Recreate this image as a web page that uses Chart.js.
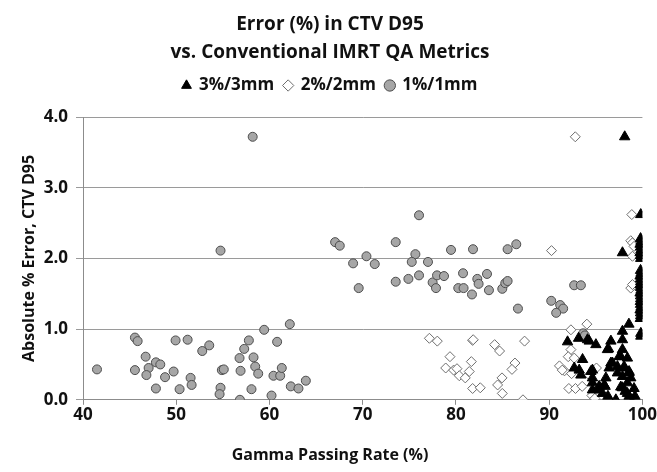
<!DOCTYPE html>
<html lang="en">
<head>
    <meta charset="UTF-8">
    <title>Error (%) in CTV D95</title>
    <script src="https://cdn.jsdelivr.net/npm/chart.js@4.4.1/dist/chart.umd.min.js"></script>
    <style>
        body { margin: 0; background: #fff; }
        #chart { display: block; }
    </style>
</head>
<body>
    <canvas id="chart" width="657" height="472"></canvas>

    <script>
        // axis ticks
        var xTicks = [40, 50, 60, 70, 80, 90, 100];
        var yTicks = [0, 1, 2, 3, 4];

        // 3%/3mm series (gamma passing rate, abs % error)
        var triX = [98.1, 99.82, 97.86, 99.8, 99.85, 99.75, 99.8, 99.85, 99.75, 99.8, 99.82,
            99.8, 99.85, 99.75, 99.8, 99.82, 99.78, 99.8, 99.85, 99.75, 99.8, 99.82, 99.78,
            99.8, 99.85, 99.75, 99.8, 99.82, 99.78, 99.83, 99.83,
            98.55, 97.86, 97.86, 96.62, 95.01, 96.36, 96.25, 97.86, 97.68, 98.39, 97.5,
            94.3, 94.11, 93.15, 91.97, 96.79, 96.62, 96.43, 97.32, 98.04, 98.57, 94.64,
            96.08, 97.86, 98.75, 94.64, 95.9, 95.36, 97.68, 98.57, 97.15, 98.15, 99.1,
            93.58, 92.69, 93.22, 93.4, 94.47, 94.64, 95.36, 94.64, 95.72, 97.32, 98.04,
            98.57, 98.39, 97.86, 98.39, 96.0, 96.3, 99.2];
        var triY = [3.72, 2.62, 2.08, 2.28, 2.24, 2.20, 2.16, 2.12, 2.08, 2.04, 2.00,
            1.83, 1.79, 1.75, 1.71, 1.67, 1.63, 1.59, 1.55, 1.51, 1.47, 1.43, 1.39,
            1.35, 1.31, 1.27, 1.23, 1.19, 1.15, 0.94, 0.90,
            1.07, 0.97, 0.85, 0.83, 0.78, 0.72, 0.71, 0.71, 0.61, 0.59, 0.61,
            0.83, 0.85, 0.87, 0.82, 0.52, 0.52, 0.45, 0.47, 0.45, 0.40, 0.42,
            0.31, 0.33, 0.31, 0.24, 0.21, 0.14, 0.18, 0.05, 0.00, 0.12, 0.16,
            0.57, 0.45, 0.42, 0.35, 0.40, 0.31, 0.19, 0.14, 0.09, 0.38, 0.47,
            0.38, 0.24, 0.17, 0.09, 0.19, 0.05, 0.05];

        // 2%/2mm series
        var diaX = [92.8, 90.25, 77.15, 78.0, 81.79, 81.85, 84.15, 84.68, 87.36, 79.36,
            78.9, 79.75, 80.11, 80.36, 81.0, 81.43, 81.65, 81.79, 82.61, 86.33, 86.01,
            84.94, 84.47, 84.97, 87.19, 92.33, 94.04, 92.33, 92.04, 92.69, 91.1, 91.64,
            92.4, 92.11, 92.82, 93.54, 94.58, 95.07, 94.3, 91.4, 98.86, 98.75, 98.93,
            99.1, 98.93, 98.75, 98.93, 94.9];
        var diaY = [3.72, 2.11, 0.87, 0.83, 0.84, 0.85, 0.78, 0.69, 0.83, 0.61,
            0.45, 0.42, 0.44, 0.34, 0.31, 0.40, 0.54, 0.16, 0.17, 0.52, 0.43,
            0.31, 0.21, 0.09, 0.00, 0.99, 1.07, 0.71, 0.61, 0.59, 0.48, 0.41,
            0.37, 0.16, 0.16, 0.19, 0.06, 0.45, 0.35, 0.42, 2.62, 2.25, 2.22,
            2.17, 2.03, 1.58, 1.63, 0.02];

        // 1%/1mm series
        var cirX = [41.5, 45.57, 45.86, 45.57, 46.72, 47.04, 46.8, 47.82, 48.29, 47.82,
            48.8, 49.72, 49.93, 50.36, 51.22, 51.54, 51.65, 52.79, 53.54, 54.75, 54.65,
            54.89, 55.1, 56.79, 56.9, 57.29, 57.79, 58.29, 58.47, 58.79, 58.07, 56.83,
            59.43, 60.82, 60.43, 61.15, 61.32, 60.22, 62.18, 62.29, 63.11, 63.9,
            54.75, 58.2,
            67.04, 67.54, 68.97, 70.4, 71.29, 69.57, 73.54, 73.54, 74.9, 76.04, 75.65,
            75.26, 76.04, 77.0, 77.5, 77.86, 77.97, 78.72, 79.47, 80.76, 80.25, 80.82,
            81.72, 81.83, 82.29, 82.43, 83.33, 83.54, 84.97, 85.29, 85.54, 85.54, 86.47,
            86.65, 90.22, 91.18, 91.5, 90.75, 93.65, 93.83, 92.68, 93.4];
        var cirY = [0.43, 0.88, 0.83, 0.42, 0.61, 0.45, 0.35, 0.53, 0.50, 0.16,
            0.32, 0.40, 0.84, 0.15, 0.85, 0.31, 0.21, 0.69, 0.77, 0.17, 0.08,
            0.42, 0.43, 0.59, 0.41, 0.72, 0.84, 0.60, 0.47, 0.37, 0.15, 0.00,
            0.99, 0.82, 0.34, 0.34, 0.45, 0.06, 1.07, 0.19, 0.16, 0.27,
            2.11, 3.72,
            2.23, 2.18, 1.93, 2.03, 1.92, 1.58, 2.23, 1.67, 1.71, 2.61, 2.06,
            1.95, 1.76, 1.95, 1.66, 1.58, 1.76, 1.75, 2.12, 1.79, 1.58, 1.58,
            1.49, 2.13, 1.71, 1.64, 1.78, 1.55, 1.57, 1.65, 1.68, 2.13, 2.20,
            1.29, 1.40, 1.34, 1.29, 1.23, 0.94, 0.91, 1.62, 1.62];

        var fontFamily = "'Open Sans', 'DejaVu Sans', sans-serif";

        function toPoints(xs, ys) {
            var pts = [];
            for (var i = 0; i < xs.length; i++) {
                pts.push({ x: xs[i], y: ys[i] });
            }
            return pts;
        }

        // empty box between legend and plot, pushes the plot area down
        var legendGap = {
            id: 'legendGap',
            beforeInit: function (chart) {
                Chart.layouts.addBox(chart, {
                    position: 'top',
                    weight: 100,
                    fullSize: true,
                    options: {},
                    isHorizontal: function () { return true; },
                    update: function (maxWidth) {
                        this.width = maxWidth;
                        this.height = 13;
                    },
                    draw: function () {}
                });
            }
        };

        var ctx = document.getElementById("chart").getContext("2d");
        var chart = new Chart(ctx, {
            type: 'scatter',
            data: {
                datasets: [
                    {
                        label: '3%/3mm',
                        data: toPoints(triX, triY),
                        pointStyle: 'triangle',
                        pointRadius: 6,
                        backgroundColor: '#000000',
                        borderColor: '#000000',
                        borderWidth: 1
                    },
                    {
                        label: '2%/2mm',
                        data: toPoints(diaX, diaY),
                        pointStyle: 'rectRot',
                        pointRadius: 5,
                        backgroundColor: '#ffffff',
                        borderColor: '#6e6e6e',
                        borderWidth: 1
                    },
                    {
                        label: '1%/1mm',
                        data: toPoints(cirX, cirY),
                        pointStyle: 'circle',
                        pointRadius: 4.5,
                        backgroundColor: '#a6a6a6',
                        borderColor: '#4d4d4d',
                        borderWidth: 1
                    }
                ]
            },
            plugins: [legendGap],
            options: {
                responsive: false,
                animation: false,
                layout: { padding: { left: 3, right: 0, top: 0, bottom: 0 } },
                plugins: {
                    title: {
                        display: true,
                        text: ['Error (%) in CTV D95', 'vs. Conventional IMRT QA Metrics'],
                        color: '#111',
                        font: { family: fontFamily, size: 19, weight: 'bold', lineHeight: 1.5 },
                        padding: { top: 10, bottom: 0 }
                    },
                    legend: {
                        position: 'top',
                        labels: {
                            usePointStyle: true,
                            boxWidth: 8,
                            boxHeight: 8,
                            color: '#111',
                            font: { family: fontFamily, size: 17, weight: 'bold' },
                            padding: 10
                        }
                    },
                    // x axis title, centred on the whole figure as in the original
                    subtitle: {
                        display: true,
                        position: 'bottom',
                        text: 'Gamma Passing Rate (%)',
                        color: '#111',
                        font: { family: fontFamily, size: 16, weight: 'bold', lineHeight: 1.2 },
                        padding: { top: 0, bottom: 7 }
                    },
                    tooltip: { enabled: false }
                },
                scales: {
                    x: {
                        type: 'linear',
                        min: xTicks[0],
                        max: xTicks[xTicks.length - 1],
                        afterBuildTicks: function (scale) {
                            scale.ticks = xTicks.map(function (v) { return { value: v }; });
                        },
                        afterFit: function (scale) { scale.height = 46; },
                        ticks: {
                            color: '#111',
                            font: { family: fontFamily, size: 17, weight: 'bold' },
                            padding: 0
                        },
                        grid: { drawOnChartArea: false, color: '#8c8c8c', tickLength: 5 },
                        border: { color: '#8c8c8c' }
                    },
                    y: {
                        min: yTicks[0],
                        max: yTicks[yTicks.length - 1],
                        afterBuildTicks: function (scale) {
                            scale.ticks = yTicks.map(function (v) { return { value: v }; });
                        },
                        afterFit: function (scale) { scale.width = 80; },
                        ticks: {
                            color: '#111',
                            font: { family: fontFamily, size: 17, weight: 'bold' },
                            padding: 8,
                            callback: function (v) { return Number(v).toFixed(1); }
                        },
                        grid: { color: '#9a9a9a', tickLength: 7 },
                        border: { color: '#8c8c8c' },
                        title: {
                            display: true,
                            text: 'Absolute % Error, CTV D95',
                            color: '#111',
                            font: { family: fontFamily, size: 16, weight: 'bold', lineHeight: 1.2 },
                            padding: { top: 17, bottom: 0 }
                        }
                    }
                }
            }
        });
    </script>
</body>
</html>
